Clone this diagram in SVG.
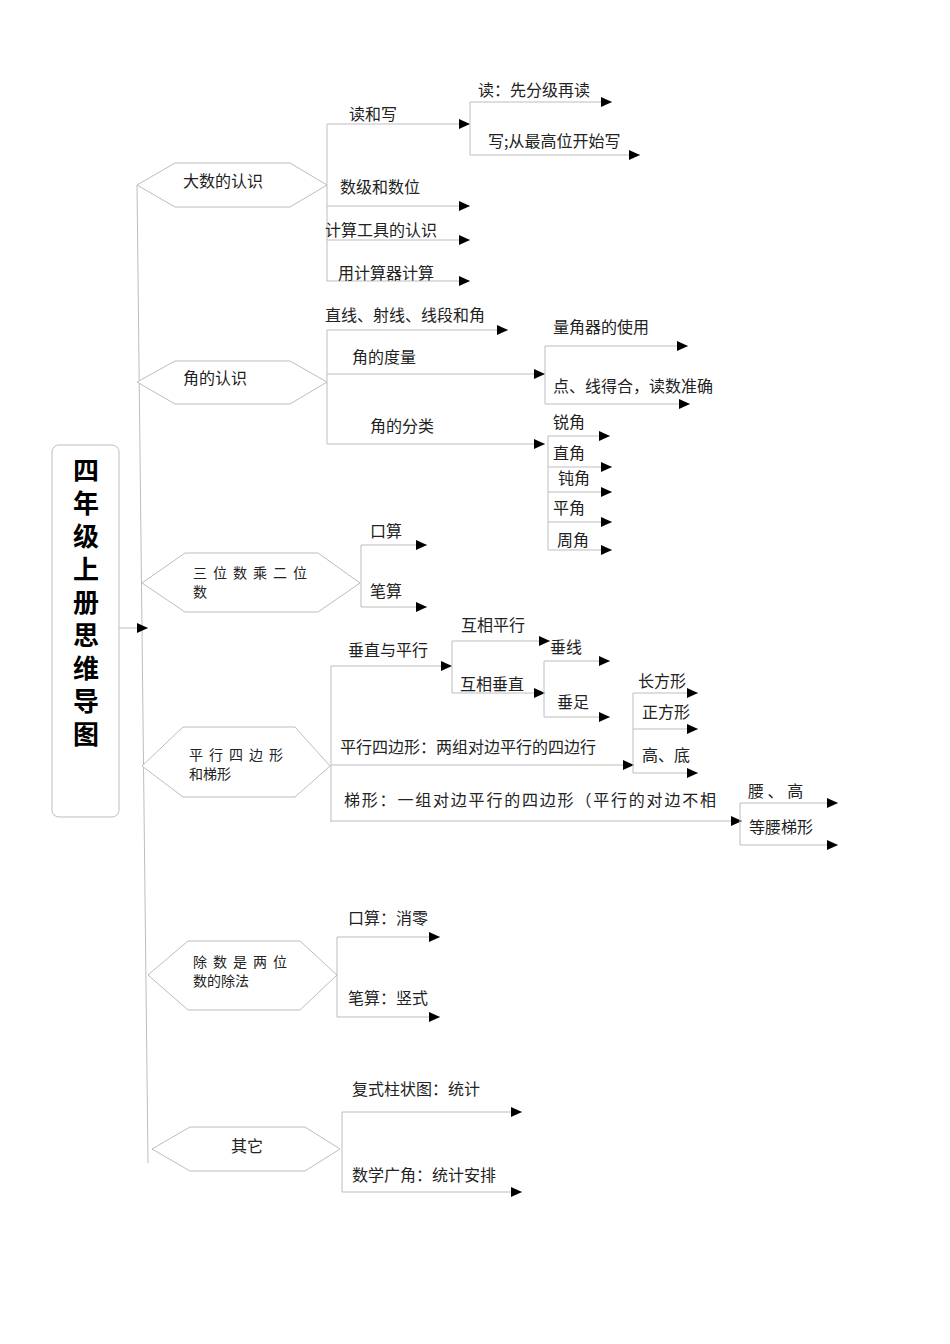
<svg xmlns="http://www.w3.org/2000/svg" width="950" height="1344" viewBox="0 0 950 1344">
<style>
.l{stroke:#bdbdbd;stroke-width:1;fill:none}
.a{stroke:#bdbdbd;stroke-width:1;fill:none;marker-end:url(#ah)}
.h{stroke:#bdbdbd;stroke-width:1;fill:#fff}
text{font-family:"Noto Sans CJK SC","Liberation Serif",serif;font-size:16px;fill:#222}
.n{font-size:14px}
.t{font-size:26px;font-weight:bold;fill:#000}
</style>
<defs>
<marker id="ah" markerUnits="userSpaceOnUse" markerWidth="11" markerHeight="10" refX="11" refY="5" orient="auto"><path d="M0,0L11,5L0,10z" fill="#000"/></marker>
</defs>
<rect width="950" height="1344" fill="#fff"/>
<g id="connectors">
<path class="l" d="M137,185L148,1163"/>
<path class="a" d="M119,628H148"/>
<path class="l" d="M327,124V281"/>
<path class="a" d="M327,124H470"/><path class="a" d="M327,206H470"/><path class="a" d="M327,240H470"/><path class="a" d="M327,281H470"/>
<path class="l" d="M470,102V155"/>
<path class="a" d="M470,102H612"/><path class="a" d="M470,155H640"/>
<path class="l" d="M327,330V444"/>
<path class="a" d="M327,330H508"/><path class="a" d="M327,374H545"/><path class="a" d="M327,444H545"/>
<path class="l" d="M545,346V404"/>
<path class="a" d="M545,346H688"/><path class="a" d="M545,404H690"/>
<path class="l" d="M548,436V550"/>
<path class="a" d="M548,436H610"/><path class="a" d="M548,467H612"/><path class="a" d="M548,492H612"/><path class="a" d="M548,522H612"/><path class="a" d="M548,550H612"/>
<path class="l" d="M361,545V607"/>
<path class="a" d="M361,545H427"/><path class="a" d="M361,607H427"/>
<path class="l" d="M331,666V822"/>
<path class="a" d="M331,666H452"/><path class="a" d="M331,765H634"/><path class="a" d="M331,821H742"/>
<path class="l" d="M452,641V693"/>
<path class="a" d="M452,641H550"/><path class="a" d="M452,693H545"/>
<path class="l" d="M544,661V717"/>
<path class="a" d="M544,661H610"/><path class="a" d="M544,717H610"/>
<path class="l" d="M633,693V773"/>
<path class="a" d="M633,693H698"/><path class="a" d="M633,729H698"/><path class="a" d="M633,773H698"/>
<path class="l" d="M740,803V845"/>
<path class="a" d="M740,803H838"/><path class="a" d="M740,845H838"/>
<path class="l" d="M337,937V1017"/>
<path class="a" d="M337,937H440"/><path class="a" d="M337,1017H440"/>
<path class="l" d="M342,1112V1192"/>
<path class="a" d="M342,1112H522"/><path class="a" d="M342,1192H522"/>
</g>
<g id="title"><rect x="52" y="445" width="67" height="372" rx="7" class="h"/>
<text class="t" x="86" y="480" text-anchor="middle">四</text><text class="t" x="86" y="513" text-anchor="middle">年</text><text class="t" x="86" y="546" text-anchor="middle">级</text><text class="t" x="86" y="579" text-anchor="middle">上</text><text class="t" x="86" y="612" text-anchor="middle">册</text><text class="t" x="86" y="645" text-anchor="middle">思</text><text class="t" x="86" y="678" text-anchor="middle">维</text><text class="t" x="86" y="711" text-anchor="middle">导</text><text class="t" x="86" y="744" text-anchor="middle">图</text></g>
<g id="n1"><polygon class="h" points="137,185 175,163 290,163 327,185 290,207 175,207"/><text x="183" y="187">大数的认识</text></g>
<g id="n2"><polygon class="h" points="137,382 175,361 290,361 327,382 290,404 175,404"/><text x="183" y="384">角的认识</text></g>
<g id="n3"><polygon class="h" points="142,583 185,553 318,553 360,583 318,612 185,612"/><text class="n" x="193" y="578" letter-spacing="6">三位数乘二位</text><text class="n" x="193" y="597">数</text></g>
<g id="n4"><polygon class="h" points="142,766 183,727 295,727 330,766 295,797 183,797"/><text class="n" x="189" y="760" letter-spacing="6">平行四边形</text><text class="n" x="189" y="779">和梯形</text></g>
<g id="n5"><polygon class="h" points="148,975 188,941 300,941 337,975 300,1010 188,1010"/><text class="n" x="193" y="967" letter-spacing="6">除数是两位</text><text class="n" x="193" y="986">数的除法</text></g>
<g id="n6"><polygon class="h" points="152,1149 190,1127 305,1127 340,1149 305,1171 190,1171"/><text x="231" y="1152">其它</text></g>
<g id="labels">
<text x="349" y="120">读和写</text><text x="340" y="193">数级和数位</text><text x="325" y="236">计算工具的认识</text><text x="338" y="279">用计算器计算</text>
<text x="478" y="96">读：先分级再读</text><text x="488" y="147">写;从最高位开始写</text>
<text x="325" y="321">直线、射线、线段和角</text><text x="352" y="363">角的度量</text><text x="370" y="432">角的分类</text>
<text x="553" y="333">量角器的使用</text><text x="553" y="392">点、线得合，读数准确</text>
<text x="553" y="428">锐角</text><text x="553" y="459">直角</text><text x="558" y="484">钝角</text><text x="553" y="514">平角</text><text x="557" y="546">周角</text>
<text x="370" y="537">口算</text><text x="370" y="597">笔算</text>
<text x="348" y="656">垂直与平行</text><text x="340" y="753">平行四边形：两组对边平行的四边行</text><text x="344" y="806" letter-spacing="1.8">梯形：一组对边平行的四边形（平行的对边不相</text>
<text x="461" y="631">互相平行</text><text x="460" y="690">互相垂直</text><text x="550" y="653">垂线</text><text x="557" y="708">垂足</text>
<text x="638" y="687">长方形</text><text x="642" y="718">正方形</text><text x="642" y="761">高、底</text>
<text x="748" y="797">腰 、 高</text><text x="749" y="833">等腰梯形</text>
<text x="348" y="924">口算：消零</text><text x="348" y="1004">笔算：竖式</text>
<text x="352" y="1095">复式柱状图：统计</text><text x="352" y="1181">数学广角：统计安排</text>
</g>
</svg>
